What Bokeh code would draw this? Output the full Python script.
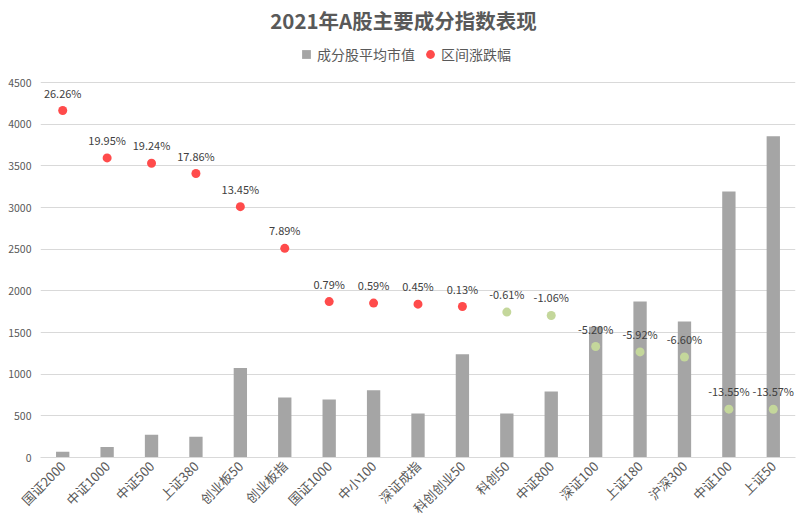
import math
from bokeh.plotting import figure
from bokeh.models import (ColumnDataSource, FactorRange, Range1d, FixedTicker,
                          LabelSet, Label, Legend, LegendItem)
from bokeh.core.properties import value
from bokeh.embed import file_html
from bokeh.resources import INLINE

categories = ["国证2000", "中证1000", "中证500", "上证380", "创业板50", "创业板指",
              "国证1000", "中小100", "深证成指", "科创创业50", "科创50", "中证800",
              "深证100", "上证180", "沪深300", "中证100", "上证50"]
avg_mcap = [68, 126, 272, 248, 1075, 720, 697, 806, 527, 1238, 527, 793,
            1568, 1872, 1632, 3193, 3855]
pct_change = [26.26, 19.95, 19.24, 17.86, 13.45, 7.89, 0.79, 0.59, 0.45, 0.13,
              -0.61, -1.06, -5.20, -5.92, -6.60, -13.55, -13.57]
y_ticks = [0, 500, 1000, 1500, 2000, 2500, 3000, 3500, 4000, 4500]

FONT = "Noto Sans CJK SC"
TXT = "#595959"

# layout (pixels, figure coordinates)
W, H = 806, 527
BL, BR, BB = 40, 11, 70
FRAME_H = H - BB                   # frame spans from top of figure to the 0 line
TOP_PX = 82                        # where 4500 sits, from top of figure
upp = 4500.0 / (FRAME_H - TOP_PX)  # value units per pixel
y_end = FRAME_H * upp
pct_lo, pct_hi = -20.0, 30.0
pct_end = pct_lo + (pct_hi - pct_lo) * FRAME_H / (FRAME_H - TOP_PX)

src = ColumnDataSource(dict(
    cat=categories,
    mcap=avg_mcap,
    pct=pct_change,
    lbl=[f"{v:.2f}%" for v in pct_change],
    col=["#FF4B4B" if v >= 0 else "#C4D79B" for v in pct_change],
))

p = figure(x_range=FactorRange(*categories, range_padding=0),
           y_range=Range1d(0, y_end),
           width=W, height=H, output_backend="svg", toolbar_location=None,
           min_border_left=BL, min_border_right=BR, min_border_bottom=BB,
           min_border_top=0)
p.extra_y_ranges = {"pct": Range1d(pct_lo, pct_end)}

p.outline_line_color = None
p.background_fill_color = "white"
p.border_fill_color = "white"

bars = p.vbar(x="cat", top="mcap", width=0.3, source=src,
              fill_color="#A5A5A5", line_color=None)
bar_key = p.scatter(x="cat", y="mcap", source=src, marker="square", size=0,
                    fill_color="#A5A5A5", line_color=None)
dots = p.scatter(x="cat", y="pct", source=src, y_range_name="pct",
                 size=9, fill_color="col", line_color=None)

labels = LabelSet(x="cat", y="pct", text="lbl", source=src, y_range_name="pct",
                  y_offset=10, text_align="center", text_baseline="bottom",
                  text_font=value(FONT), text_font_size="11px", text_color="#404040")
p.add_layout(labels)

# x axis (categories)
p.xaxis.axis_line_color = "#D9D9D9"
p.xaxis.major_tick_line_color = None
p.xaxis.minor_tick_line_color = None
p.xaxis.major_tick_out = 0
p.xaxis.major_tick_in = 0
p.xaxis.major_label_orientation = math.pi / 4
p.xaxis.major_label_text_font = FONT
p.xaxis.major_label_text_font_size = "13px"
p.xaxis.major_label_text_color = TXT
p.xaxis.major_label_standoff = 6

# y axis
p.yaxis.ticker = FixedTicker(ticks=y_ticks)
p.yaxis.axis_line_color = None
p.yaxis.major_tick_line_color = None
p.yaxis.minor_tick_line_color = None
p.yaxis.major_tick_out = 0
p.yaxis.major_tick_in = 0
p.yaxis.major_label_text_font = FONT
p.yaxis.major_label_text_font_size = "10.5px"
p.yaxis.major_label_text_color = TXT
p.yaxis.major_label_standoff = 9

p.xgrid.grid_line_color = None
p.ygrid.grid_line_color = "#D9D9D9"

# title
title = Label(x=403 - BL, y=FRAME_H - 19, x_units="screen", y_units="screen",
              text="2021年A股主要成分指数表现", text_align="center",
              text_baseline="middle", text_font=FONT, text_font_size="20.5px",
              text_font_style="bold", text_color=TXT)
p.add_layout(title)

legend = Legend(items=[LegendItem(label="成分股平均市值", renderers=[bar_key], index=0),
                       LegendItem(label="区间涨跌幅", renderers=[dots], index=0)],
                orientation="horizontal", location=(295 - BL, FRAME_H - 54 - 11),
                label_text_font=FONT, label_text_font_size="14px",
                label_text_color=TXT, glyph_width=22, glyph_height=22,
                spacing=4, label_standoff=0, border_line_color=None,
                background_fill_alpha=0, padding=0, margin=0)
p.add_layout(legend, "center")

open("out.html", "w").write(file_html(p, INLINE))
